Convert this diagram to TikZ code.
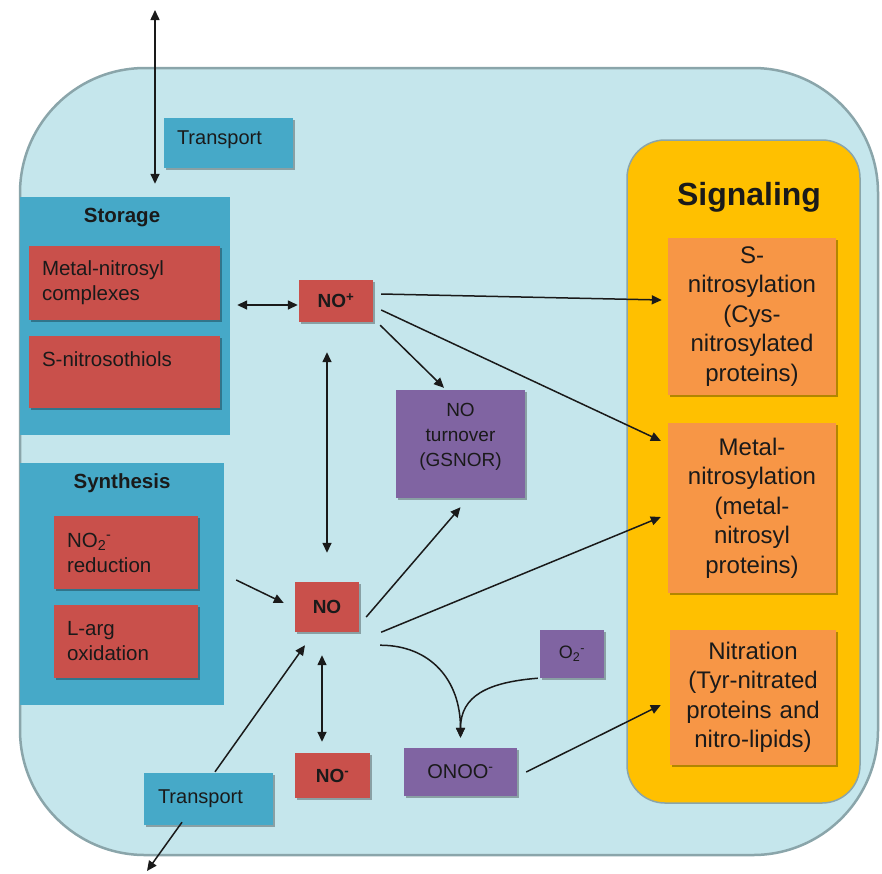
\documentclass[tikz,border=0pt]{standalone}
\usepackage{fontspec}
\setmainfont{Liberation Sans}
\usetikzlibrary{arrows.meta,shadows}
\definecolor{cellbg}{HTML}{C5E6EC}
\definecolor{cellbd}{HTML}{8AA5AA}
\definecolor{tealb}{HTML}{46A9C8}
\definecolor{redb}{HTML}{C9504B}
\definecolor{purpb}{HTML}{8064A2}
\definecolor{orab}{HTML}{F79646}
\definecolor{goldb}{HTML}{FFC000}
\definecolor{ink}{HTML}{1A1A1A}
\begin{document}
\begin{tikzpicture}[x=1pt,y=-1pt,
  cellstyle/.style={draw=cellbd, line width=2.5pt, fill=cellbg, rounded corners=125pt, inner sep=0pt},
  grp/.style={fill=tealb, inner sep=0pt},
  shad/.style={drop shadow={shadow xshift=1.5pt,shadow yshift=-2pt,opacity=.3,fill=black}},
  tealbox/.style={fill=tealb, shad, inner ysep=0pt, align=left, text=ink, font=\fontsize{20}{24}\selectfont},
  redbox/.style={fill=redb, shad, inner ysep=0pt, align=left, text=ink, font=\fontsize{20.5}{25}\selectfont},
  nobox/.style={fill=redb, shad, inner sep=0pt, text=ink, font=\bfseries\fontsize{19}{23}\selectfont},
  purpbox/.style={fill=purpb, shad, inner sep=0pt, align=center, text=ink, font=\fontsize{19}{25}\selectfont},
  orabox/.style={fill=orab, shad, inner sep=0pt, align=center, text=ink, font=\fontsize{24}{29.5}\selectfont},
  sigbox/.style={fill=goldb, draw=cellbd, line width=1.5pt, rounded corners=38pt, inner sep=0pt},
  grptitle/.style={font=\bfseries\fontsize{20.5}{24}\selectfont, text=ink, inner sep=0pt},
  arr/.style={draw=ink, line width=1.5pt, -{Triangle[length=10pt,width=9pt]}},
  dbl/.style={draw=ink, line width=1.5pt, {Triangle[length=10pt,width=9pt]}-{Triangle[length=10pt,width=9pt]}}
]
\useasboundingbox (0,0) rectangle (882,873);

% cell
\node[cellstyle, minimum width=858pt, minimum height=787pt] (cell) at (449,461.5) {};

% left groups
\node[grp, minimum width=210pt, minimum height=238pt] (storage) at (125,316) {};
\node[grptitle] (storT) at (122,218) {Storage};
\node[redbox, minimum width=191pt, minimum height=74pt, text width=165pt, inner xsep=13pt] (mnc) at (124.5,283) {Metal-nitrosyl\\complexes};
\node[redbox, minimum width=191pt, minimum height=72pt, text width=165pt, inner xsep=13pt] (snt) at (124.5,372) {S-nitrosothiols\\\mbox{}};

\node[grp, minimum width=204pt, minimum height=242pt] (synth) at (122,584) {};
\node[grptitle] (synT) at (122,483) {Synthesis};
\node[redbox, minimum width=144pt, minimum height=73pt, text width=118pt, inner xsep=13pt] (no2) at (126,552.5) {NO\textsubscript{2}\textsuperscript{-}\\reduction};
\node[redbox, minimum width=144pt, minimum height=73pt, text width=118pt, inner xsep=13pt] (larg) at (126,641.5) {L-arg\\oxidation};

% transport
\node[tealbox, minimum width=129pt, minimum height=50pt, text width=103pt, inner xsep=13pt] (trT) at (228.5,143) {\raisebox{3pt}[\height][\depth]{Transport}};
\node[tealbox, minimum width=129pt, minimum height=52pt, text width=101pt, inner xsep=14pt] (trB) at (208.5,799) {Transport};

% NO species
\node[nobox, minimum width=74pt, minimum height=42pt] (noplus) at (336,301) {NO\textsuperscript{+}};
\node[nobox, minimum width=64pt, minimum height=50pt] (no) at (327,607) {NO};
\node[nobox, minimum width=75pt, minimum height=45pt] (nominus) at (332.5,775.5) {NO\textsuperscript{-}};

% purple
\node[purpbox, minimum width=129pt, minimum height=108pt] (gsnor) at (460.5,444) {\raisebox{8pt}[\height][\depth]{\begin{tabular}{@{}c@{}}NO\\turnover\\(GSNOR)\end{tabular}}};
\node[purpbox, minimum width=113pt, minimum height=48pt, font=\fontsize{20}{24}\selectfont] (onoo) at (460.5,772) {ONOO\textsuperscript{-}};
\node[purpbox, minimum width=64pt, minimum height=48pt, font=\fontsize{18}{22}\selectfont] (o2) at (572,654) {O\textsubscript{2}\textsuperscript{-}};

% signaling
\node[sigbox, minimum width=233pt, minimum height=663pt] (signal) at (743.5,471.5) {};
\node[font=\bfseries\fontsize{32}{36}\selectfont, text=ink, inner sep=0pt] (sigT) at (749,197) {Signaling};
\node[orabox, minimum width=168pt, minimum height=157pt, text width=160pt] (sn) at (752,316.5) {S-\\nitrosylation\\(Cys-\\nitrosylated\\proteins)};
\node[orabox, minimum width=168pt, minimum height=170pt, text width=160pt] (mn) at (752,508) {Metal-\\nitrosylation\\(metal-\\nitrosyl\\proteins)};
\node[orabox, minimum width=166pt, minimum height=135pt, text width=160pt] (nit) at (753,697.5) {Nitration\\(Tyr-nitrated\\proteins and\\nitro-lipids)};

% free ends and helper points
\coordinate (outT) at (155,10);
\coordinate (outB) at (147,871);
\coordinate (c10) at ([xshift=-5pt]no.south);
\coordinate (c2) at ([yshift=-4pt]noplus.west);

% connectors
\draw[dbl, shorten >=13pt] (outT) -- (outT |- storage.north);
\draw[dbl, shorten <=7pt, shorten >=1pt] (c2 -| storage.east) -- (c2);
\draw[arr] ([xshift=8pt,yshift=7pt]noplus.east) -- ([xshift=-6pt,yshift=16.5pt]sn.west);
\draw[arr] ([xshift=8pt,yshift=-9pt]noplus.east) -- ([xshift=-7pt,yshift=-18pt]mn.north west);
\draw[arr] ([xshift=7pt,yshift=-3pt]noplus.south east) -- ([xshift=-16.5pt,yshift=2pt]gsnor.north);
\draw[dbl, shorten <=30pt, shorten >=29pt] (no.north |- noplus.south) -- (no.north);
\draw[arr] ([xshift=12pt,yshift=4pt]synth.east) -- ([xshift=-11pt,yshift=4pt]no.west);
\draw[arr] ([xshift=7pt,yshift=-10pt]no.east) -- ([yshift=-9pt]gsnor.south);
\draw[arr] ([xshift=22pt]no.south east) -- ([xshift=-7pt,yshift=-9pt]mn.west);
\draw[dbl, shorten <=23pt, shorten >=11pt] (c10) -- (c10 |- nominus.north);
\draw[arr] ([xshift=6.5pt,yshift=1pt]trB.north) -- ([xshift=-22pt,yshift=-13pt]no.south);
\draw[arr] ([xshift=-26.5pt,yshift=3pt]trB.south) -- (outB);
\draw[arr] ([xshift=21pt,yshift=-13pt]no.south east) .. controls +(50,0) and +(0,-58) .. ([yshift=10pt]onoo.north);
\draw[arr] ([xshift=-2pt]o2.south west) .. controls +(-50,4) and +(0,-42) .. ([yshift=10pt]onoo.north);
\draw[arr] ([xshift=9pt]onoo.east) -- ([xshift=-9pt,yshift=-7.5pt]nit.west);
\end{tikzpicture}
\end{document}
